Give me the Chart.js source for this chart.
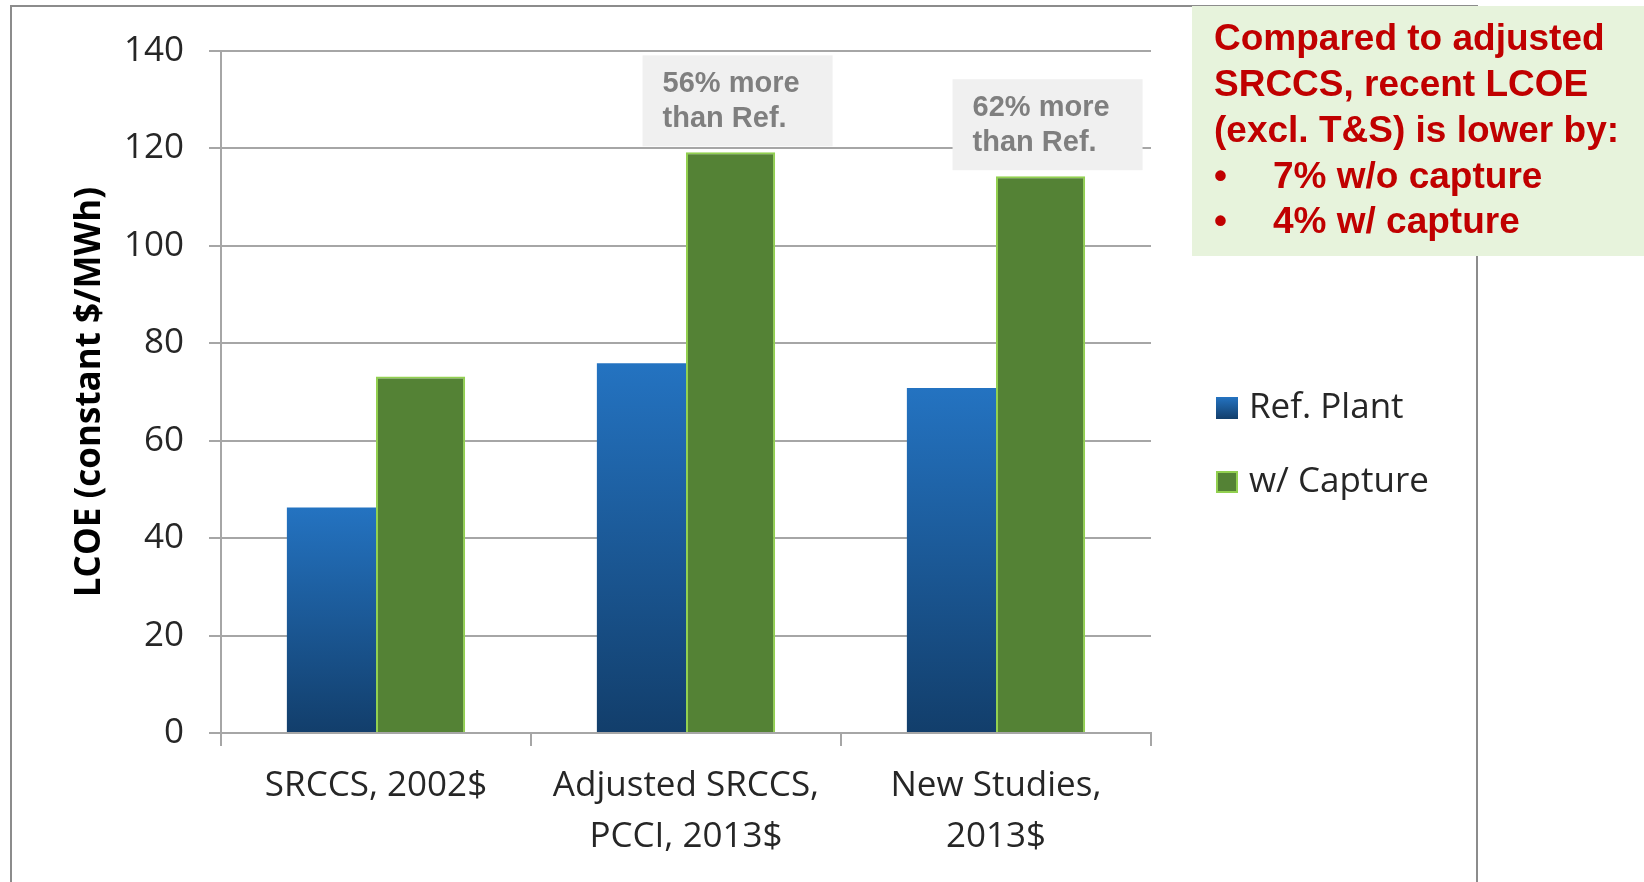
<!DOCTYPE html>
<html>
<head>
<meta charset="utf-8">
<script src="https://cdn.jsdelivr.net/npm/chart.js@4.4.1/dist/chart.umd.min.js"></script>
<style>
  html, body { margin: 0; padding: 0; background: #fff; overflow: hidden; }
  #wrap { position: relative; width: 1644px; height: 882px; }
  canvas { position: absolute; left: 0; top: 0; }
</style>
</head>
<body>
<div id="wrap"><canvas id="lcoe" width="1644" height="882"></canvas></div>
<script>
const categories = [['SRCCS, 2002$'], ['Adjusted SRCCS,', 'PCCI, 2013$'], ['New Studies,', '2013$']];
const seriesNames = ['Ref. Plant', 'w/ Capture'];
const refPlant = [46.3, 75.9, 70.8];
const withCapture = [73.2, 119.2, 114.3];
const yMin = 0;
const yMax = 140;
const yStep = 20;
const yTitle = 'LCOE (constant $/MWh)';
// callouts over the capture bars, by category index
const callouts = [null, ['56% more', 'than Ref.'], ['62% more', 'than Ref.']];
const noteLines = ['Compared to adjusted', 'SRCCS, recent LCOE', '(excl. T&S) is lower by:'];
const noteBullets = ['7% w/o capture', '4% w/ capture'];

const blueTop = '#2473c1';
const blueBottom = '#123e6b';
const greenFill = '#548235';
const greenEdge = '#92d050';
const gridGrey = '#a6a6a6';
const labelFont = '"Open Sans", sans-serif';
const boldFont = '"Liberation Sans", Arial, sans-serif';

function blueGradient(ctx, top, bottom) {
    const g = ctx.createLinearGradient(0, top, 0, bottom);
    g.addColorStop(0, blueTop);
    g.addColorStop(1, blueBottom);
    return g;
}

// frame of the chart box, drawn under everything
const framePlugin = {
    id: 'frame',
    beforeDraw(chart) {
        const c = chart.ctx;
        c.save();
        c.strokeStyle = '#8c8c8c';
        c.lineWidth = 2;
        c.beginPath();
        c.moveTo(11, 882);
        c.lineTo(11, 6);
        c.lineTo(1477, 6);
        c.lineTo(1477, 882);
        c.stroke();
        c.restore();
    }
};

// callout boxes, legend and the side note
const extrasPlugin = {
    id: 'extras',
    afterDraw(chart) {
        const c = chart.ctx;
        const meta = chart.getDatasetMeta(1);
        c.save();

        callouts.forEach((lines, i) => {
            if (!lines) return;
            const bar = meta.data[i];
            const w = 190, h = 91;
            const left = bar.x + 7 - w / 2;
            const top = bar.y - 6 - h;
            c.fillStyle = '#f0f0f0';
            c.fillRect(left, top, w, h);
            c.fillStyle = '#7f7f7f';
            c.font = 'bold 29px ' + boldFont;
            c.textBaseline = 'middle';
            c.textAlign = 'left';
            lines.forEach((t, k) => c.fillText(t, left + 20, top + 29 + k * 35));
        });

        // legend
        const legendX = 1216, rowY = [408, 482], box = 22;
        chart.data.datasets.forEach((ds, k) => {
            const y = rowY[k];
            if (k === 0) {
                c.fillStyle = blueGradient(c, y - box / 2, y + box / 2);
                c.fillRect(legendX, y - box / 2, box, box);
            } else {
                c.fillStyle = greenFill;
                c.fillRect(legendX, y - box / 2, box, box);
                c.strokeStyle = greenEdge;
                c.lineWidth = 2;
                c.strokeRect(legendX + 1, y - box / 2 + 1, box - 2, box - 2);
            }
            c.fillStyle = '#262626';
            c.font = '35px ' + labelFont;
            c.textBaseline = 'middle';
            c.fillText(ds.label, legendX + 33, y);
        });

        // side note
        c.fillStyle = '#e7f3dc';
        c.fillRect(1192, 6, 452, 250);
        c.fillStyle = '#c00000';
        c.font = 'bold 37px ' + boldFont;
        c.textBaseline = 'middle';
        noteLines.forEach((t, k) => c.fillText(t, 1214, 40 + k * 46));
        noteBullets.forEach((t, k) => {
            const y = 178 + k * 45;
            c.fillText('\u2022', 1214, y);
            c.fillText(t, 1273, y);
        });
        c.restore();
    }
};

new Chart(document.getElementById('lcoe'), {
    type: 'bar',
    data: {
        labels: categories,
        datasets: [{
            label: seriesNames[0],
            data: refPlant,
            backgroundColor: (ctx) => {
                const chart = ctx.chart;
                if (!chart.chartArea || ctx.type !== 'data') return blueTop;
                const y = chart.scales.y;
                return blueGradient(chart.ctx, y.getPixelForValue(ctx.raw), y.getPixelForValue(0));
            },
            borderWidth: 0
        }, {
            label: seriesNames[1],
            data: withCapture,
            backgroundColor: greenFill,
            borderColor: greenEdge,
            borderWidth: 2,
            borderSkipped: 'bottom'
        }]
    },
    options: {
        responsive: false,
        animation: false,
        devicePixelRatio: 1,
        layout: { padding: { left: 0, top: 51, right: 493, bottom: 0 } },
        datasets: {
            bar: { categoryPercentage: 0.575, barPercentage: 1 }
        },
        plugins: {
            legend: { display: false },
            tooltip: { enabled: false }
        },
        scales: {
            x: {
                offset: true,
                grid: {
                    offset: true,
                    drawOnChartArea: false,
                    drawTicks: true,
                    tickLength: 13,
                    color: gridGrey,
                    lineWidth: 2
                },
                border: { color: gridGrey, width: 2 },
                ticks: {
                    color: '#262626',
                    font: { family: labelFont, size: 35, lineHeight: 1.47 },
                    padding: 14,
                    maxRotation: 0,
                    autoSkip: false
                },
                afterFit: (scale) => { scale.height = 149; }
            },
            y: {
                min: yMin,
                max: yMax,
                grid: {
                    color: gridGrey,
                    lineWidth: 2,
                    drawTicks: true,
                    tickLength: 12
                },
                border: { color: gridGrey, width: 2 },
                ticks: {
                    stepSize: yStep,
                    color: '#262626',
                    font: { family: labelFont, size: 35 },
                    padding: 25
                },
                title: {
                    display: true,
                    text: yTitle,
                    color: '#000',
                    font: { family: labelFont, size: 35, weight: 'bold', lineHeight: 1.2 },
                    padding: { top: 69, bottom: 0 }
                },
                afterFit: (scale) => { scale.width = 221; }
            }
        }
    },
    plugins: [framePlugin, extrasPlugin]
});
</script>
</body>
</html>
